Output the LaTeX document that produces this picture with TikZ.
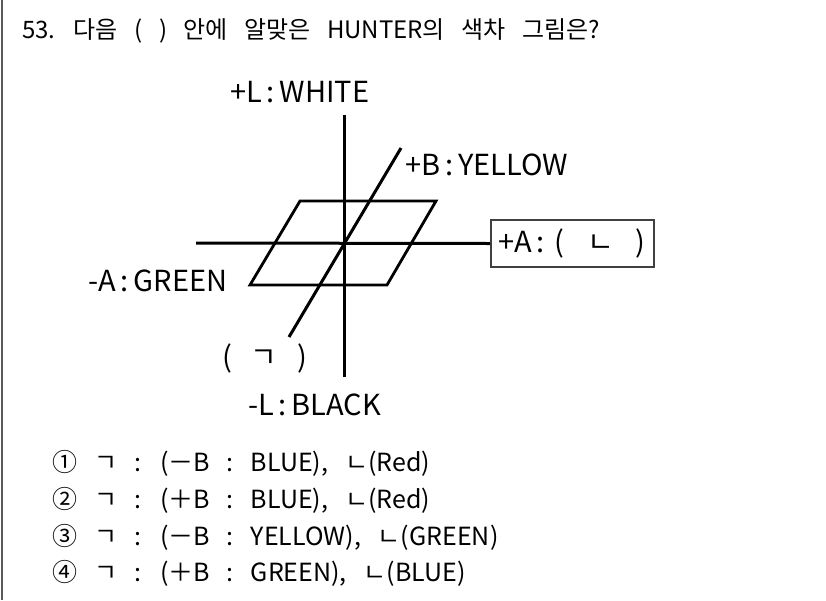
\documentclass[tikz,border=0pt]{standalone}
\usepackage{fontspec}
\setmainfont{Noto Sans CJK KR}
\newfontfamily\kr{Noto Sans CJK KR}
\newcommand{\optfont}{\kr\fontsize{25}{25}\selectfont}
\newcommand{\ttlfont}{\kr\fontsize{24}{24}\selectfont}
\newcommand{\wsp}[1]{\spaceskip=#1\relax}
\tikzset{
  axis/.style={line width=3pt, black},
  lbl/.style={inner sep=0pt, anchor=west, font=\kr\fontsize{29}{29}\selectfont},
  opt/.style={inner sep=0pt, anchor=west, font=\optfont},
  ttl/.style={inner sep=0pt, anchor=west, font=\ttlfont},
}
\begin{document}
\begin{tikzpicture}[x=1pt,y=-1pt]
\useasboundingbox (0,0) rectangle (826,600);
\draw[line width=2pt, black!65] (1.5,0) -- (1.5,600);
\node[ttl] (title) at (22,31) {\wsp{16.5pt}53. 다음 ( ) 안에 알맞은 HUNTER의 색차 그림은?};
% axes
\coordinate (Ltop) at (344,115);
\coordinate (Lbot) at (344,377);
\coordinate (Aleft) at (196,243);
\coordinate (Btop) at (401,148);
\coordinate (Bbot) at (289,337);
\coordinate (P1) at (300,201);
\coordinate (P2) at (436,201);
\coordinate (P3) at (387,285);
\coordinate (P4) at (250,285);
\node[draw=black!75, line width=1.6pt, minimum width=163pt, minimum height=47pt, inner sep=0pt, anchor=west] (boxA) at (490,243.5) {};
\node[lbl] (Atext) at (498,243.5) {+A\,:\,\,(\hspace{0.8em}ㄴ\hspace{0.75em})};
\draw[axis] (Ltop) -- (Lbot);
\draw[axis] (Aleft) -- (boxA.west);
\draw[axis] (Btop) -- (Bbot);
\draw[line width=2.8pt, line join=miter] (P1) -- (P2) -- (P3) -- (P4) -- cycle;
% labels
\node[lbl] (Lp) at (230,92) {+L\,:\,WHITE};
\node[lbl] (Bp) at (405,165) {+B\,:\,YELLOW};
\node[lbl] (Am) at (88,281) {-A\,:\,GREEN};
\node[lbl] (Bm) at (222,358) {(\hspace{0.65em}ㄱ\hspace{0.7em})};
\node[lbl] (Lm) at (248,405) {-L\,:\,BLACK};
% options
\node[opt] (o1) at (52,463) {\wsp{17pt}① ㄱ : (－B : BLUE), ㄴ(Red)};
\node[opt] (o2) at (52,500) {\wsp{17pt}② ㄱ : (＋B : BLUE), ㄴ(Red)};
\node[opt] (o3) at (52,537) {\wsp{17pt}③ ㄱ : (－B : YELLOW), ㄴ(GREEN)};
\node[opt] (o4) at (52,573) {\wsp{17pt}④ ㄱ : (＋B : GREEN), ㄴ(BLUE)};
\end{tikzpicture}
\end{document}
